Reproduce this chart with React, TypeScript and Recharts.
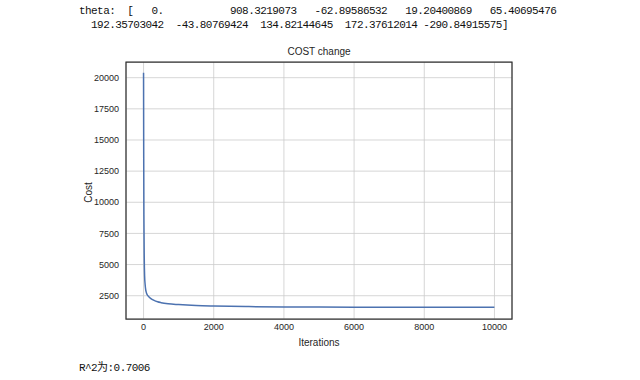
import React from 'react';
import { LineChart, Line, XAxis, YAxis, CartesianGrid, ReferenceArea } from 'recharts';

// cost per iteration
const iterations = [0, 5, 10, 20, 30, 45, 60, 80, 100, 150, 200, 300, 400, 500, 700, 1000, 1500, 2000, 3000, 4000, 5000, 6000, 7000, 8000, 9000, 9999];
const costs = [20400, 13500, 9000, 5500, 4100, 3400, 3000, 2750, 2600, 2420, 2290, 2120, 2010, 1940, 1850, 1785, 1710, 1670, 1625, 1600, 1588, 1580, 1575, 1572, 1570, 1568];

const xTicks = [0, 2000, 4000, 6000, 8000, 10000];
const yTicks = [2500, 5000, 7500, 10000, 12500, 15000, 17500, 20000];
const xDomain = [-500, 10500];
const yDomain = [630, 21260];

const thetaLines = [
  'theta:  [   0.           908.3219073   -62.89586532   19.20400869   65.40695476',
  '  192.35703042  -43.80769424  134.82144645  172.37612014 -290.84915575]',
];
const r2Text = 'R^2为:0.7006';

const data = iterations.map((it, i) => ({ it, cost: costs[i] }));

const font = '"Liberation Sans", Arial, sans-serif';
const tickStyle = { fontSize: 9, fill: '#262626', fontFamily: font };
const labelStyle = { fontSize: 10, fill: '#262626', fontFamily: font };
const monoStyle: React.CSSProperties = {
  position: 'absolute',
  left: 79,
  fontFamily: '"Liberation Mono", "Noto Sans CJK SC", monospace',
  fontSize: 11,
  letterSpacing: -0.56,
  whiteSpace: 'pre',
  color: '#111',
  lineHeight: '14px',
};

export default function App() {
  return (
    <div style={{ position: 'absolute', left: 0, top: 0, width: 640, height: 380, background: '#fff', overflow: 'hidden' }}>
      <div style={{ ...monoStyle, top: 4 }}>{thetaLines[0]}</div>
      <div style={{ ...monoStyle, top: 18 }}>{thetaLines[1]}</div>
      <div
        style={{
          position: 'absolute',
          left: 126,
          width: 386,
          top: 46,
          textAlign: 'center',
          fontFamily: font,
          fontSize: 10,
          color: '#262626',
        }}
      >
        COST change
      </div>
      <LineChart
        width={640}
        height={380}
        data={data}
        margin={{ top: 62, right: 128, bottom: 31, left: 76 }}
        style={{ position: 'absolute', left: 0, top: 0 }}
      >
        <CartesianGrid stroke="#cccccc" strokeWidth={0.8} />
        <XAxis
          dataKey="it"
          type="number"
          domain={xDomain}
          ticks={xTicks}
          tickLine={false}
          axisLine={false}
          tickSize={0}
          tickMargin={5}
          height={30}
          tick={tickStyle}
          label={{ value: 'Iterations', position: 'insideBottom', offset: 3, style: labelStyle }}
        />
        <YAxis
          type="number"
          domain={yDomain}
          ticks={yTicks}
          tickLine={false}
          axisLine={false}
          tickSize={0}
          tickMargin={7}
          width={50}
          tick={tickStyle}
          allowDataOverflow
          label={{ value: 'Cost', angle: -90, position: 'center', dx: -13, dy: 2, style: labelStyle }}
        />
        <ReferenceArea
          x1={xDomain[0]}
          x2={xDomain[1]}
          y1={yDomain[0]}
          y2={yDomain[1]}
          fill="none"
          stroke="#333333"
          strokeWidth={1.25}
          ifOverflow="visible"
        />
        <Line
          dataKey="cost"
          type="monotone"
          stroke="#4c72b0"
          strokeWidth={1.5}
          dot={false}
          isAnimationActive={false}
        />
      </LineChart>
      <div style={{ ...monoStyle, top: 361 }}>{r2Text}</div>
    </div>
  );
}
